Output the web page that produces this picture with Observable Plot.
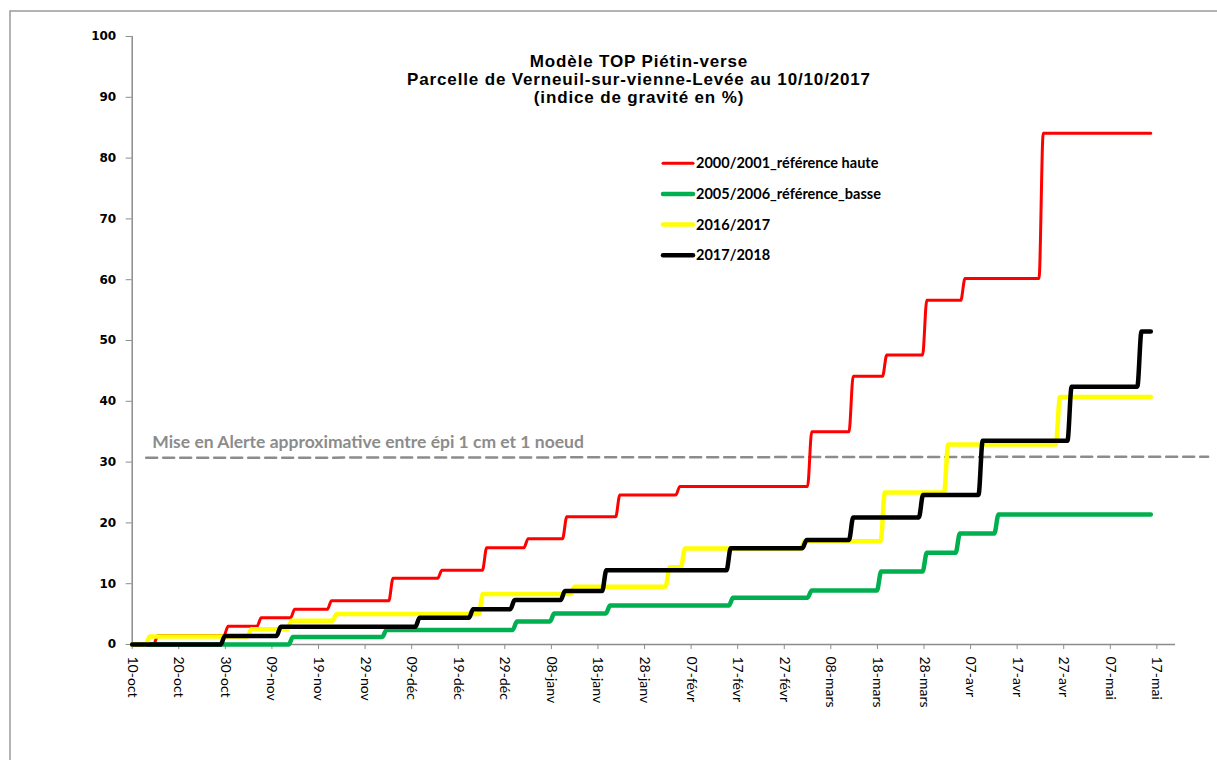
<!DOCTYPE html>
<html><head><meta charset="utf-8">
<script src="https://cdn.jsdelivr.net/npm/d3@7"></script>
<script src="https://cdn.jsdelivr.net/npm/@observablehq/plot@0.6"></script>
<style>
body{margin:0;background:#fff;}
#chart{position:relative;width:1217px;height:760px;overflow:hidden;}
</style>
</head><body><div id="chart"></div>
<script>
// x = days since 10-oct (season axis)
const xTickDays = [0,10,20,30,40,50,60,70,80,90,100,110,120,130,140,150,160,170,180,190,200,210,220];
const xTickLabels = ["10-oct","20-oct","30-oct","09-nov","19-nov","29-nov","09-déc","19-déc","29-déc","08-janv","18-janv","28-janv","07-févr","17-févr","27-févr","08-mars","18-mars","28-mars","07-avr","17-avr","27-avr","07-mai","17-mai"];
const yTicks = [0,10,20,30,40,50,60,70,80,90,100];
const lastDay = 218.7;

const seriesNames = ["2000/2001_référence haute","2005/2006_référence_basse","2016/2017","2017/2018"];
const seriesColors = ["#ff0000","#00b050","#ffff00","#000000"];
const seriesWidths = [3,4.5,4.5,4.5];

// day of each step, level reached after the step
const redSteps   = [4.6,19.7,26.8,34.0,41.9,55.1,65.6,75.2,84.1,92.4,103.8,116.7,145.0,153.9,161.1,169.7,177.9,194.7];
const redLevels  = [1.5,3.0,4.4,5.8,7.2,10.9,12.2,15.9,17.4,21.0,24.6,26.0,35.0,44.1,47.6,56.6,60.2,84.1];
const greenSteps = [33.6,53.7,81.7,89.7,101.7,128.1,145.0,159.9,169.7,176.8,185.1];
const greenLevels= [1.25,2.4,3.8,5.1,6.4,7.7,8.9,12.0,15.1,18.25,21.4];
const yellowSteps= [2.9,24.7,33.3,43.0,74.4,94.1,114.5,117.8,143.5,160.7,174.3,198.3];
const yellowLevels=[1.3,2.5,3.9,5.0,8.3,9.5,12.7,15.8,17.0,25.0,32.9,40.7];
const blackSteps = [19.0,31.0,60.8,72.3,81.2,92.0,100.9,127.6,143.9,153.9,168.9,181.7,200.8,215.8];
const blackLevels= [1.4,2.9,4.4,5.8,7.3,8.8,12.2,15.85,17.2,20.9,24.6,33.5,42.4,51.5];

const alertDays = [3, 231];
const alertValues = [30.7, 30.9];
const alertLabel = "Mise en Alerte approximative entre épi 1 cm et 1 noeud";

const titleLines = ["Modèle TOP Piétin-verse","Parcelle de Verneuil-sur-vienne-Levée au 10/10/2017","(indice de gravité en %)"];

function stepSeries(name, steps, levels) {
  const pts = [{day: 0, v: 0, serie: name}];
  let prev = 0;
  steps.forEach((s, i) => {
    pts.push({day: s, v: prev, serie: name});
    pts.push({day: s + 0.9, v: levels[i], serie: name});
    prev = levels[i];
  });
  pts.push({day: lastDay, v: prev, serie: name});
  return pts;
}
const allSteps = [[redSteps,redLevels],[greenSteps,greenLevels],[yellowSteps,yellowLevels],[blackSteps,blackLevels]];
const lines = allSteps.map(([s,l],i) => stepSeries(seriesNames[i], s, l));
const alertData = alertDays.map((d,i)=>({day:d, v:alertValues[i]}));

const svg = Plot.plot({
  width: 1217, height: 760,
  marginLeft: 131.7, marginRight: 42, marginTop: 36, marginBottom: 116,
  style: {background: "transparent", overflow: "visible"},
  x: {domain: [0, 224], axis: null},
  y: {domain: [0, 100], axis: null},
  marks: [
    Plot.ruleY([0], {stroke: "#8c8c8c", strokeWidth: 1.5}),
    Plot.ruleX([0], {stroke: "#8c8c8c", strokeWidth: 1.5}),
    Plot.axisY({ticks: yTicks, tickSize: 6, tickPadding: 10, stroke: "#8c8c8c", fill: "#000",
      fontSize: 12, fontWeight: "bold", fontFamily: "DejaVu Sans", label: null}),
    Plot.axisX({ticks: xTickDays, tickSize: 5, stroke: "#8c8c8c", tickFormat: () => "", label: null}),
    Plot.text(xTickDays, {x: d => d, text: (d, i) => xTickLabels[i], frameAnchor: "bottom",
      rotate: 90, textAnchor: "start", lineAnchor: "middle", dy: 12,
      fontSize: 14, fontFamily: "Lato", fill: "#000"}),
    Plot.line(alertData, {x: "day", y: "v", stroke: "#8c8c8c", strokeWidth: 2.5, strokeDasharray: "11,6"}),
    Plot.text([alertLabel], {x: () => 4.3, y: () => alertValues[0], text: d => d, textAnchor: "start",
      lineAnchor: "middle", dy: -15, fontSize: 17.5, fontWeight: "bold", fontFamily: "Lato", fill: "#8c8c8c",
      style: {letterSpacing: "0.4px"}}),
    ...lines.map((pts, i) => Plot.line(pts, {x: "day", y: "v", stroke: seriesColors[i],
      strokeWidth: seriesWidths[i], curve: "monotone-x", strokeLinejoin: "round", strokeLinecap: "round"}))
  ]
});
document.getElementById("chart").appendChild(svg);

const s = d3.select(svg);
// outer frame
s.insert("rect", ":first-child").attr("x", 10).attr("y", 11).attr("width", 1300).attr("height", 900)
  .attr("fill", "none").attr("stroke", "#9a9a9a").attr("stroke-width", 1.5);
// title
const title = s.append("g").attr("font-family", "Liberation Sans, Arial, sans-serif").attr("font-weight", "bold")
  .attr("font-size", 17).attr("letter-spacing", 0.85).attr("text-anchor", "middle").attr("fill", "#000");
const titleY = [61, 79, 97];
titleLines.forEach((t, i) => title.append("text").attr("x", 639).attr("y", titleY[i]).attr("dy", "0.35em").text(t));
// legend
const legY = [163.3, 194, 224.5, 255.3];
const leg = s.append("g").attr("text-anchor", "start");
seriesNames.forEach((n, i) => {
  leg.append("line").attr("x1", 663).attr("x2", 693).attr("y1", legY[i]).attr("y2", legY[i])
    .attr("stroke", seriesColors[i]).attr("stroke-width", seriesWidths[i]).attr("stroke-linecap", "round");
  leg.append("text").attr("x", 696).attr("y", legY[i]).attr("dy", "0.35em").attr("text-anchor", "start")
    .attr("font-family", "Lato").attr("font-weight", "bold").attr("font-size", 14.5).attr("fill", "#000").text(n);
});
</script>
</body></html>
